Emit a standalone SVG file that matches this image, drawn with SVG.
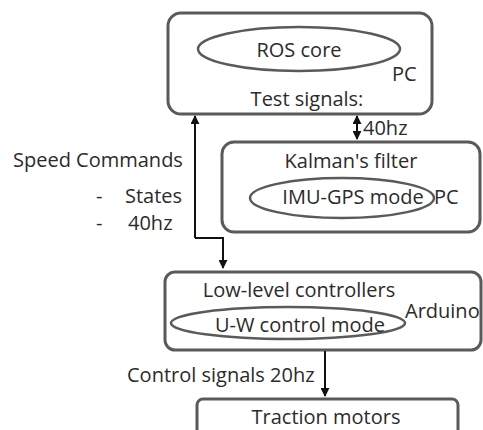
<svg xmlns="http://www.w3.org/2000/svg" width="483" height="430" viewBox="0 0 483 430">
<style>
.box{fill:#fff;stroke:#5a5a5a;stroke-width:3}
.ell{fill:#fff;stroke:#5a5a5a;stroke-width:2.5}
text{font-family:"Open Sans","Noto Sans",sans-serif;font-size:20px;fill:#2b2b2b}
.c{text-anchor:middle}
.ln{fill:none;stroke:#111;stroke-width:2}
</style>
<defs>
<marker id="ah" viewBox="0 0 10 10" refX="9" refY="5" markerWidth="4.5" markerHeight="4.5" orient="auto-start-reverse">
<path d="M0,0 L10,5 L0,10 z" fill="#111"/>
</marker>
</defs>
<rect width="483" height="430" fill="#fff"/>
<g id="pc">
<rect class="box" x="168" y="13" width="264" height="101" rx="13"/>
<ellipse class="ell" cx="299" cy="49" rx="101" ry="22"/>
<text class="c" x="299" y="57">ROS core</text>
<text x="392" y="81">PC</text>
<text class="c" x="307" y="106">Test signals:</text>
</g>
<g id="kalman">
<rect class="box" x="222" y="142" width="258" height="90" rx="12"/>
<text class="c" x="351" y="168">Kalman's filter</text>
<ellipse class="ell" cx="342" cy="198" rx="92" ry="20"/>
<text class="c" x="353" y="204">IMU-GPS mode</text>
<text x="434" y="204">PC</text>
</g>
<g id="arduino">
<rect class="box" x="165" y="272" width="316" height="78" rx="10"/>
<text class="c" x="299" y="297">Low-level controllers</text>
<ellipse class="ell" cx="288" cy="323" rx="117" ry="16"/>
<text class="c" x="300" y="332">U-W control mode</text>
<text x="405" y="318">Arduino</text>
</g>
<g id="traction">
<rect class="box" x="197" y="399" width="261" height="40" rx="6"/>
<text class="c" x="326" y="424">Traction motors</text>
</g>
<g id="labels">
<text x="13" y="167">Speed Commands</text>
<text x="96" y="203">-</text>
<text x="125" y="203">States</text>
<text x="96" y="230">-</text>
<text x="128" y="230">40hz</text>
<text x="363" y="135">40hz</text>
<text x="127" y="382">Control signals 20hz</text>
</g>
<g id="connectors">
<path class="ln" d="M195,238 L195,116" marker-end="url(#ah)"/>
<path class="ln" d="M195,238 L223,238 L223,268" marker-end="url(#ah)"/>
<path class="ln" d="M357,116 L357,139" marker-start="url(#ah)" marker-end="url(#ah)"/>
<path class="ln" d="M325,351 L325,396" marker-end="url(#ah)"/>
</g>
</svg>
